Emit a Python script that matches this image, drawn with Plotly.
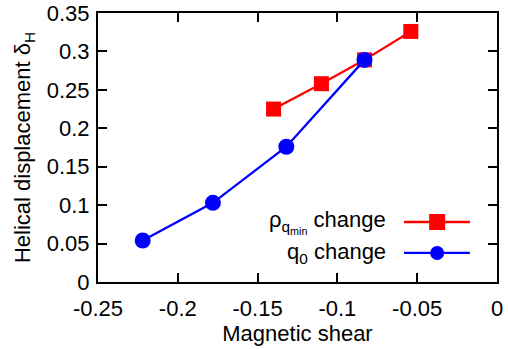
import plotly.graph_objects as go

rho_x = [-0.140, -0.110, -0.083, -0.054]
rho_y = [0.225, 0.258, 0.289, 0.326]
q0_x = [-0.222, -0.178, -0.132, -0.083]
q0_y = [0.054, 0.103, 0.176, 0.289]

x_ticks = [-0.25, -0.2, -0.15, -0.1, -0.05, 0]
x_labels = ["-0.25", "-0.2", "-0.15", "-0.1", "-0.05", "0"]
y_ticks = [0, 0.05, 0.1, 0.15, 0.2, 0.25, 0.3, 0.35]
y_labels = ["0", "0.05", "0.1", "0.15", "0.2", "0.25", "0.3", "0.35"]

RED = "#ff0000"
BLUE = "#0000ff"
FONT = "Liberation Sans, Arial, sans-serif"
FS = 22

fig = go.Figure()
fig.add_trace(go.Scatter(x=rho_x, y=rho_y, mode="lines+markers",
                         line=dict(color=RED, width=2.3),
                         marker=dict(symbol="square", size=15, color=RED),
                         showlegend=False, cliponaxis=False))
fig.add_trace(go.Scatter(x=q0_x, y=q0_y, mode="lines+markers",
                         line=dict(color=BLUE, width=2.3),
                         marker=dict(symbol="circle", size=16, color=BLUE),
                         showlegend=False, cliponaxis=False))

axis_common = dict(showline=True, linecolor="black", linewidth=2, mirror="ticks",
                   ticks="inside", ticklen=9, tickwidth=1.5, tickcolor="black",
                   showgrid=False, zeroline=False, automargin=False,
                   tickfont=dict(family=FONT, size=FS, color="black"))

fig.update_xaxes(range=[-0.25, 0], tickvals=x_ticks, ticktext=x_labels,
                 ticklabelstandoff=6,
                 title=dict(text="Magnetic shear", font=dict(family=FONT, size=FS, color="black"),
                            standoff=0),
                 **axis_common)
fig.update_yaxes(range=[0, 0.35], tickvals=y_ticks, ticktext=y_labels,
                 ticklabelstandoff=2,
                 title=dict(text="Helical displacement δ<sub>H</sub>",
                            font=dict(family=FONT, size=FS, color="black"), standoff=10),
                 **axis_common)

# custom legend (text left, sample right)
legend = [
    ("ρ<sub>q<sub>min</sub></sub> change", RED, "rect", 0.223),
    ("q<sub>0</sub> change", BLUE, "circle", 0.108),
]
shapes = []
annotations = []
for text, color, sym, yp in legend:
    annotations.append(dict(text=text, xref="paper", yref="paper", x=0.727, y=yp,
                            xanchor="right", yanchor="middle", showarrow=False,
                            font=dict(family=FONT, size=FS, color="black")))
    shapes.append(dict(type="line", xref="paper", yref="paper", x0=0.767, x1=0.932,
                       y0=yp, y1=yp, line=dict(color=color, width=2.3)))
    half = 8 if sym == "rect" else 7
    shapes.append(dict(type=sym, xref="paper", yref="paper",
                       xsizemode="pixel", ysizemode="pixel",
                       xanchor=0.850, yanchor=yp,
                       x0=-half, x1=half, y0=-half, y1=half,
                       fillcolor=color, line=dict(color=color, width=0)))

fig.update_layout(width=508, height=349, margin=dict(l=98, r=11, t=13, b=67),
                  plot_bgcolor="white", paper_bgcolor="white",
                  shapes=shapes, annotations=annotations, showlegend=False)

fig.write_html("out.html")
